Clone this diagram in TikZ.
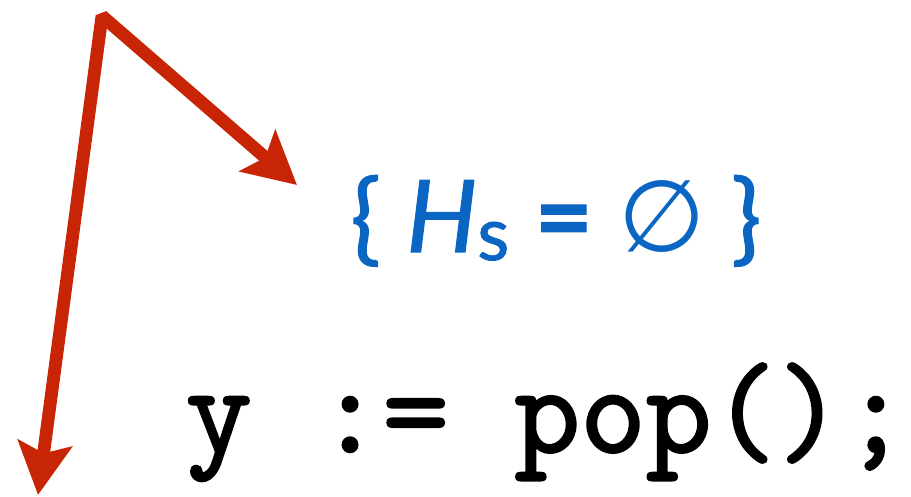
\documentclass[tikz,border=0pt]{standalone}
\usepackage{fontspec}
\usetikzlibrary{arrows.meta}
\newfontfamily\assertfont{Lato}[FakeBold=1.2]
\newfontfamily\symfont{DejaVu Sans}
\newfontfamily\codefont{Latin Modern Mono}[FakeBold=2]
\definecolor{ArrowRed}{HTML}{C82506}
\definecolor{AssertBlue}{HTML}{0A66C2}

\begin{document}
\begin{tikzpicture}[x=0.5pt, y=-0.5pt,
  flowarrow/.style={draw=ArrowRed, line width=6.4pt, line join=bevel,
    arrows={Stealth[length=26pt, width=27pt, inset=5pt]-Stealth[length=26pt, width=27pt, inset=5pt]}}]
  \useasboundingbox (0,0) rectangle (911,497);
  % assertion and statement
  \node[anchor=base, inner sep=0pt, text=AssertBlue,
    font=\assertfont\fontsize{50pt}{56pt}\selectfont] (assert) at (556,252)
    {\{ \textit{H}\raisebox{-4pt}{\fontsize{37pt}{37pt}\selectfont s} {\bfseries =} {\symfont ∅} \}};
  \node[anchor=base west, inner sep=0pt,
    font=\codefont\fontsize{63.8pt}{70pt}\selectfont] (stmt) at (185.5,452) {y := pop();};
  % arrows
  \coordinate (apex) at (102,16);
  \coordinate (downend) at (38,495);
  \coordinate (rightend) at (297,185);
  \draw[flowarrow] (downend) -- (apex) -- (rightend);
\end{tikzpicture}
\end{document}
